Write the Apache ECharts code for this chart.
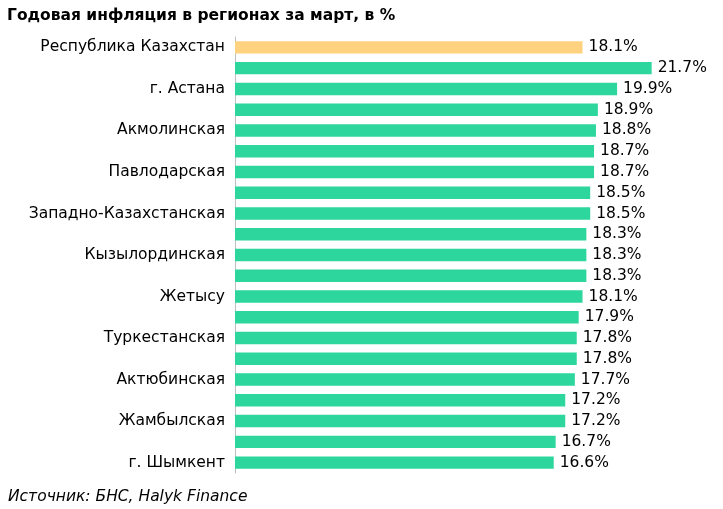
<!DOCTYPE html>
<html><head><meta charset="utf-8">
<script src="https://cdn.jsdelivr.net/npm/echarts@6/dist/echarts.min.js"></script>
<style>html,body{margin:0;padding:0;background:#fff}#c{width:723px;height:509px}</style>
</head><body><div id="c"></div>
<script>
const categories = ["Республика Казахстан","Мангистауская","г. Астана","Северо-Казахстанская","Акмолинская","Восточно-Казахстанская","Павлодарская","Карагандинская","Западно-Казахстанская","Улытау","Кызылординская","Атырауская","Жетысу","Костанайская","Туркестанская","Абай","Актюбинская","г. Алматы","Жамбылская","Алматинская","г. Шымкент"];
const values = [18.1,21.7,19.9,18.9,18.8,18.7,18.7,18.5,18.5,18.3,18.3,18.3,18.1,17.9,17.8,17.8,17.7,17.2,17.2,16.7,16.6];
const chart = echarts.init(document.getElementById('c'));
chart.setOption({
  animation:false,
  title:[{text:"Годовая инфляция в регионах за март, в %",left:2,top:3,textStyle:{fontFamily:"DejaVu Sans",fontSize:15.5,fontWeight:"bold",color:"#000"}},
         {text:"Источник: БНС, Halyk Finance",left:3,top:484,textStyle:{fontFamily:"DejaVu Sans",fontSize:15.5,fontStyle:"italic",fontWeight:"normal",color:"#000"}}],
  grid:{left:235,right:8,top:37,bottom:36},
  xAxis:{type:"value",min:0,max:25,show:false},
  yAxis:{type:"category",data:categories,inverse:true,
    axisLine:{show:true,lineStyle:{color:"#bfbfbf"}},axisTick:{show:false},
    axisLabel:{fontFamily:"DejaVu Sans",fontSize:15.5,color:"#000",margin:10}},
  series:[{type:"bar",barCategoryGap:"40%",
    data:values.map((v,i)=>({value:v,itemStyle:{color:i===0?"#FFD27F":"#2DD69C"}})),
    label:{show:true,position:"right",distance:6,fontFamily:"DejaVu Sans",fontSize:15.5,color:"#000",formatter:p=>p.value.toFixed(1)+"%"}}]
});
</script></body></html>
